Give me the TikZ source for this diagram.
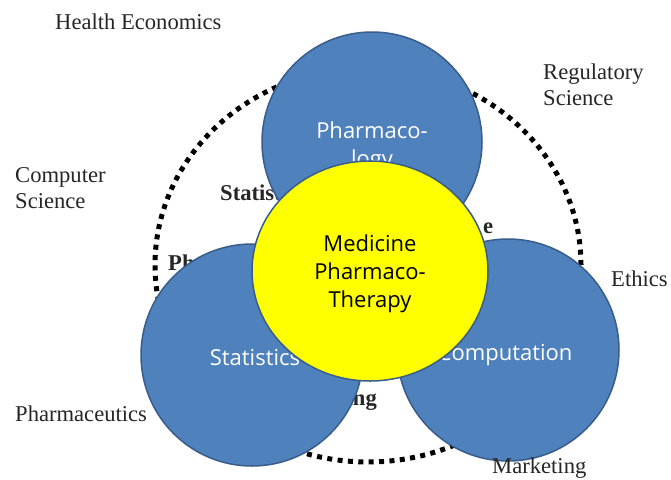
\documentclass[tikz,border=0pt]{standalone}
\usepackage{fontspec}
\setmainfont{Liberation Serif}
\newfontfamily\inner{Open Sans}
\usetikzlibrary{shapes.geometric}
\definecolor{cblue}{HTML}{4F81BD}
\definecolor{cedge}{HTML}{385D8A}
\definecolor{cyel}{HTML}{FFFF00}
\begin{document}
\begin{tikzpicture}[x=1pt,y=-1pt,
  outer/.style={inner sep=0pt, font=\fontsize{22.6}{26}\selectfont, text=black!85, align=left},
  hid/.style={inner sep=0pt, font=\fontsize{22.6}{26}\selectfont\bfseries, text=black!85},
  bluec/.style={circle, draw=cedge, line width=1.5pt, fill=cblue, inner sep=0pt},
  yelc/.style={ellipse, draw=cedge, line width=1.5pt, fill=cyel, inner sep=0pt},
  wtext/.style={inner sep=0pt, font=\inner\fontsize{22}{28}\selectfont, text=white, align=center},
  ytext/.style={inner sep=0pt, font=\inner\fontsize{22}{28}\selectfont, text=black, align=center},
  ring/.style={line width=5pt, dash pattern=on 5pt off 5.4pt}]
\useasboundingbox (0,0) rectangle (671,479);
\fill[white] (0,0) rectangle (671,479);
% dotted ring
\node[ellipse, minimum width=426pt, minimum height=394pt, inner sep=0pt, ring, draw] (ring) at (368,265) {};
% partly hidden labels
\node[hid, anchor=base west] (h1) at (220,200) {Statistics};
\node[hid, anchor=base west] (h2) at (168,270) {Pharmacy};
\node[hid, anchor=base west] (h3) at (483,233) {e};
\node[hid, anchor=base east] (h4) at (377,405) {Modeling};
% blue circles
\node[bluec, minimum size=220pt] (top) at (372,142) {};
\node[bluec, minimum size=222pt] (left) at (252,355) {};
\node[bluec, minimum size=222pt] (right) at (508,350) {};
\node[wtext] (toplab) at (372,147) {Pharmaco-\\logy};
\node[wtext, anchor=base] (leftlab) at (255,365) {Statistics};
\node[wtext, anchor=base] (rightlab) at (505,360) {Computation};
% yellow centre
\node[yelc, minimum width=236pt, minimum height=220pt] (mid) at (370,271) {};
\node[ytext] (midlab) at (370,274) {Medicine\\Pharmaco-\\Therapy};
% outer labels
\node[outer, anchor=base west] (he) at (55,29) {Health Economics};
\node[outer, anchor=north west] (rs) at (543,63.6) {Regulatory\\Science};
\node[outer, anchor=north west] (cs) at (15,167.6) {Computer\\Science};
\node[outer, anchor=base west] (et) at (611,286) {Ethics};
\node[outer, anchor=base west] (ph) at (15,421) {Pharmaceutics};
\node[outer, anchor=base west] (mk) at (492,473) {Marketing};
\end{tikzpicture}
\end{document}
